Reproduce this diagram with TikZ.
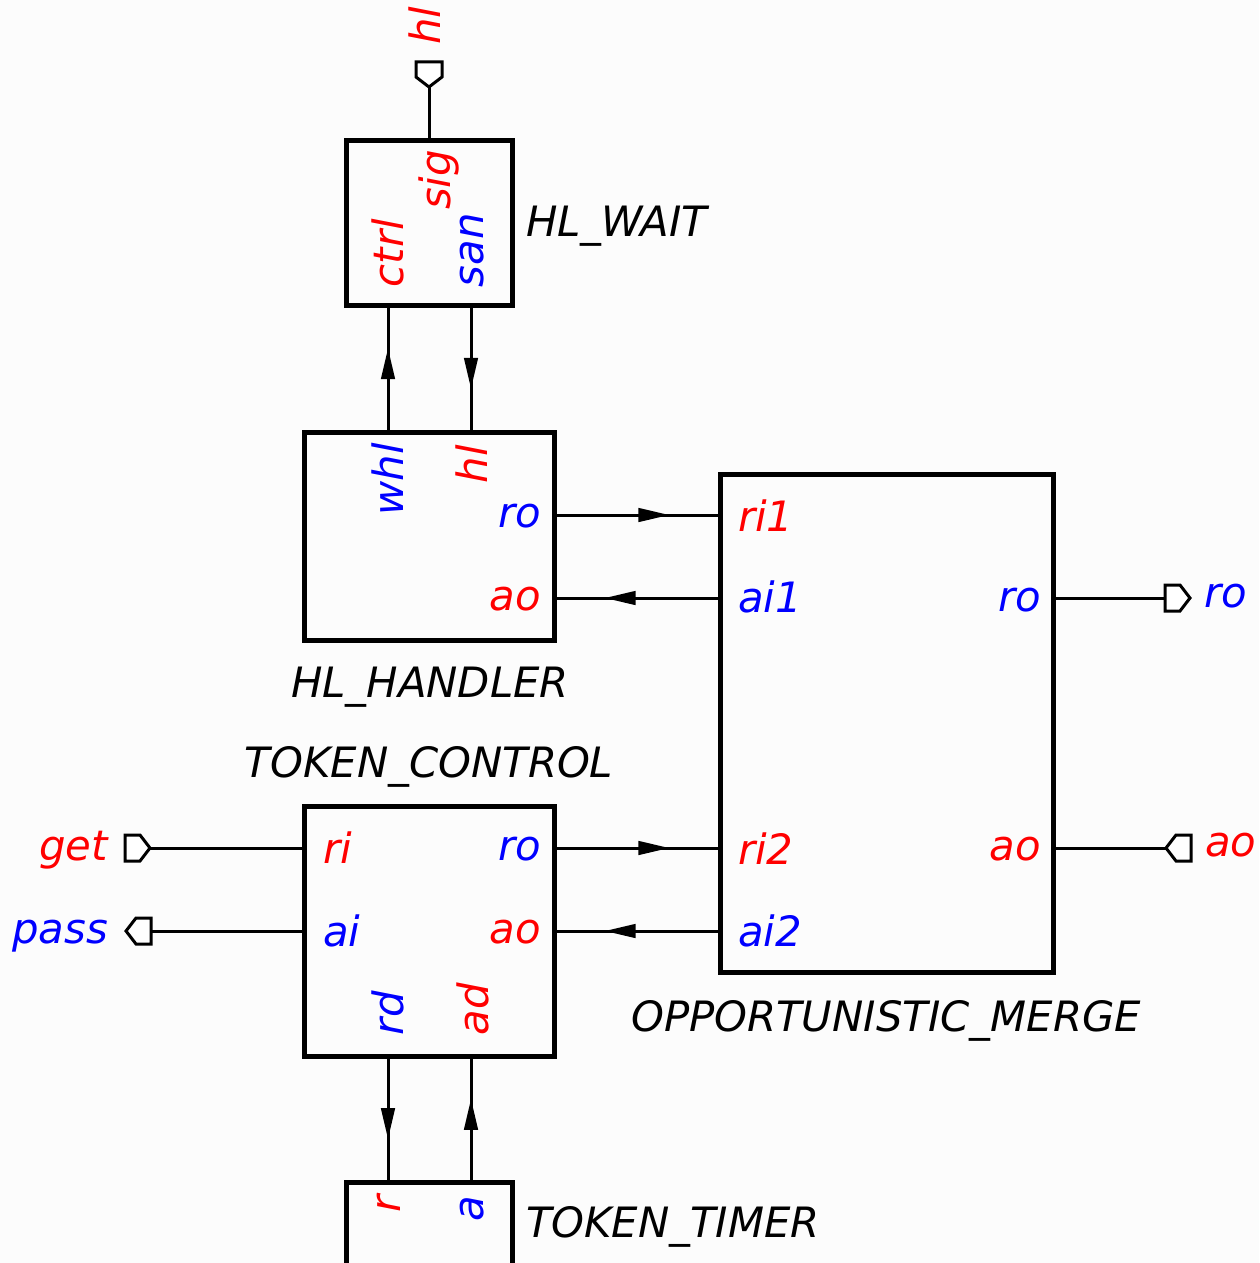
\documentclass[tikz,border=0pt]{standalone}
\usepackage{fontspec}
\setmainfont{DejaVu Sans}
\usetikzlibrary{arrows.meta,decorations.markings}
\begin{document}
\begin{tikzpicture}[x=1pt,y=-1pt,
  every node/.style={font=\fontsize{41.8}{50}\selectfont\itshape, inner sep=0pt, outer sep=0pt},
  blk/.style={draw, line width=5pt, minimum width=#1},
  wire/.style={line width=3pt},
  rlab/.style={text=red},
  blab/.style={text=blue},
  flowH/.style={wire, postaction=decorate, decoration={markings, mark=at position 0.695 with {\arrow{Triangle[length=31pt,width=13.5pt]}}}},
  flowV/.style={wire, postaction=decorate, decoration={markings, mark=at position 0.66 with {\arrow{Triangle[length=31pt,width=13.5pt]}}}},
  pent/.pic={\draw[line width=3pt, fill=white, line join=miter] (0,-13) -- (15,-13) -- (25,0) -- (15,13) -- (0,13) -- cycle;}
]
\useasboundingbox (0,0) rectangle (1259,1263);
\clip (0,0) rectangle (1259,1263);
\fill[black!1] (0,0) rectangle (1259,1263);

% blocks
\node[blk=166pt, minimum height=165pt] (wait) at (429,222.5) {};
\node[blk=250pt, minimum height=208pt] (handler) at (429,536) {};
\node[blk=333pt, minimum height=498pt] (merge) at (886.5,723) {};
\node[blk=250pt, minimum height=250pt] (control) at (429,931) {};
\node[blk=166pt, minimum height=118pt] (timer) at (429,1241) {};

% block captions
\node[anchor=base west] (waitcap) at (526,236) {HL\_WAIT};
\node[anchor=base] (handlercap) at (430,697) {HL\_HANDLER};
\node[anchor=base] (controlcap) at (429,777) {TOKEN\_CONTROL};
\node[anchor=base] (mergecap) at (886,1031) {OPPORTUNISTIC\_MERGE};
\node[anchor=base west] (timercap) at (526,1237) {TOKEN\_TIMER};

% rotated port labels
\node[rlab, rotate=90, anchor=base east] (lsig) at (450,150) {sig};
\node[rlab, rotate=90, anchor=base west] (lctrl) at (403,287) {ctrl};
\node[blab, rotate=90, anchor=base west] (lsan) at (483,287) {san};
\node[blab, rotate=90, anchor=base east] (lwhl) at (403,443) {whl};
\node[rlab, rotate=90, anchor=base east] (lhl) at (487,445) {hl};
\node[blab, rotate=90, anchor=base west] (lrd) at (403,1035) {rd};
\node[rlab, rotate=90, anchor=base west] (lad) at (488,1035) {ad};
\node[rlab, rotate=90, anchor=base east] (lr) at (400,1195) {r};
\node[blab, rotate=90, anchor=base east] (la) at (483,1196) {a};
\node[rlab, rotate=90, anchor=base west] (lhlout) at (440,45) {hl};

% horizontal port labels
\node[blab, anchor=base east] (lhro) at (541,527) {ro};
\node[rlab, anchor=base east] (lhao) at (541,610) {ao};
\node[rlab, anchor=base west] (lri1) at (738,531) {ri1};
\node[blab, anchor=base west] (lai1) at (738,612) {ai1};
\node[blab, anchor=base east] (lmro) at (1041,611) {ro};
\node[rlab, anchor=base east] (lmao) at (1041,860) {ao};
\node[rlab, anchor=base west] (lri2) at (738,864) {ri2};
\node[blab, anchor=base west] (lai2) at (738,946) {ai2};
\node[rlab, anchor=base west] (lri) at (323,863) {ri};
\node[blab, anchor=base west] (lai) at (323,946) {ai};
\node[blab, anchor=base east] (lcro) at (541,860) {ro};
\node[rlab, anchor=base east] (lcao) at (541,943) {ao};
\node[rlab, anchor=base east] (lget) at (108,860) {get};
\node[blab, anchor=base east] (lpass) at (108,943) {pass};
\node[blab, anchor=base west] (lro) at (1204,607) {ro};
\node[rlab, anchor=base west] (lao) at (1205,856) {ao};

% port connection points
\coordinate (w-sig) at (429,140);
\coordinate (w-ctrl) at (388,305);
\coordinate (w-san) at (471,305);
\coordinate (h-whl) at (388,432);
\coordinate (h-hl) at (471,432);
\coordinate (h-ro) at (554,515);
\coordinate (h-ao) at (554,598);
\coordinate (m-ri1) at (720,515);
\coordinate (m-ai1) at (720,598);
\coordinate (m-ri2) at (720,848);
\coordinate (m-ai2) at (720,931);
\coordinate (m-ro) at (1053,598);
\coordinate (m-ao) at (1053,848);
\coordinate (c-ri) at (304,848);
\coordinate (c-ai) at (304,931);
\coordinate (c-ro) at (554,848);
\coordinate (c-ao) at (554,931);
\coordinate (c-rd) at (388,1056);
\coordinate (c-ad) at (471,1056);
\coordinate (t-r) at (388,1182);
\coordinate (t-a) at (471,1182);
% external ports
\coordinate (p-hl) at (429,87);
\coordinate (p-get) at (150,848);
\coordinate (p-pass) at (151,931);
\coordinate (p-ro) at (1165,598);
\coordinate (p-ao) at (1166,848);

% connectors
\draw[flowV] (h-whl) -- (w-ctrl);
\draw[flowV] (w-san) -- (h-hl);
\draw[flowH] (h-ro) -- (m-ri1);
\draw[flowH] (m-ai1) -- (h-ao);
\draw[flowH] (c-ro) -- (m-ri2);
\draw[flowH] (m-ai2) -- (c-ao);
\draw[flowV] (c-rd) -- (t-r);
\draw[flowV] (t-a) -- (c-ad);
\draw[wire] (w-sig) -- (p-hl);
\draw[wire] (m-ro) -- (p-ro);
\draw[wire] (m-ao) -- (p-ao);
\draw[wire] (p-get) -- (c-ri);
\draw[wire] (c-ai) -- (p-pass);

% external port symbols
\pic[rotate=-90] at (429,62) {pent};
\pic at (125,848) {pent};
\pic[rotate=180] at (151,931) {pent};
\pic at (1165,598) {pent};
\pic[rotate=180] at (1191,848) {pent};
\end{tikzpicture}
\end{document}
